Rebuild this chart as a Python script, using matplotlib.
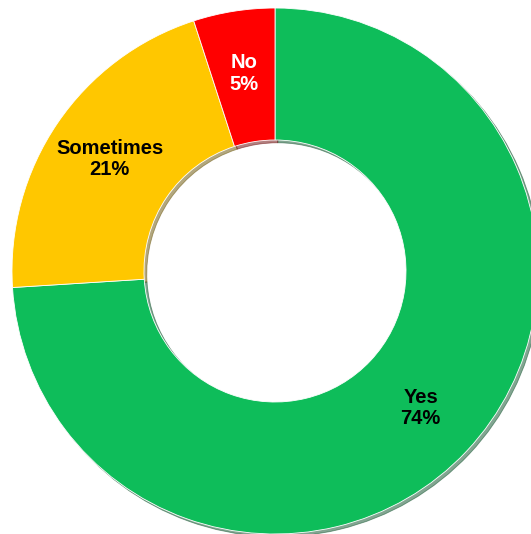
import matplotlib.pyplot as plt

plt.rcParams['font.family'] = ['Liberation Sans', 'DejaVu Sans']

categories = ['Yes', 'Sometimes', 'No']
shares = [74, 21, 5]
colors = ['#0ebd5a', '#ffc700', '#ff0000']
text_colors = ['black', 'black', 'white']

fig = plt.figure(figsize=(5.31, 5.34), dpi=100)
ax = fig.add_axes([0, 0, 1, 1])

labels = [f'{c}\n{v}%' for c, v in zip(categories, shares)]
wedges, texts = ax.pie(
    shares, labels=labels, colors=colors, startangle=90, counterclock=False,
    center=(275, 263), radius=263, labeldistance=0.76,
    wedgeprops=dict(width=132, edgecolor='#ffffff', linewidth=0.6),
    shadow={'ox': 2, 'oy': -2, 'shade': 0.6, 'alpha': 0.5},
    textprops=dict(fontsize=14.5, fontweight='bold', ha='center', va='center',
                   linespacing=1.15),
)
for t, c in zip(texts, text_colors):
    t.set_color(c)
    t.set_horizontalalignment('center')

# pie() resets the limits, so pin the pixel-sized data frame afterwards
ax.set_xlim(0, 531)
ax.set_ylim(0, 534)
ax.set_aspect('equal')
ax.axis('off')

fig.savefig('out.png', dpi=100)
